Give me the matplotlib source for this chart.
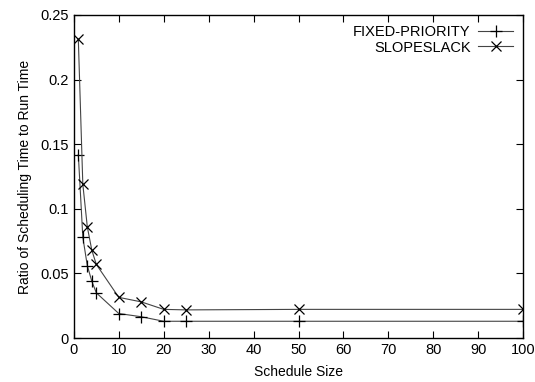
import matplotlib
matplotlib.use('Agg')
import matplotlib.pyplot as plt

plt.rcParams.update({'font.family': 'Liberation Sans', 'font.size': 10.5})

sizes = [1, 2, 3, 4, 5, 10, 15, 20, 25, 50, 100]
fixed_priority = [0.142, 0.078, 0.056, 0.044, 0.035, 0.019, 0.0165, 0.013, 0.013, 0.013, 0.013]
slopeslack = [0.231, 0.119, 0.086, 0.068, 0.057, 0.0315, 0.028, 0.0222, 0.0218, 0.0222, 0.0222]

fig = plt.figure(figsize=(5.35, 3.82), dpi=100)
ax = fig.add_axes([0.138, 0.115, 0.840, 0.846])

ax.plot(sizes, fixed_priority, color='#444444', linewidth=0.8, marker='+',
        markersize=9, markeredgewidth=0.9, markeredgecolor='black', label='FIXED-PRIORITY')
ax.plot(sizes, slopeslack, color='#444444', linewidth=0.8, marker='x',
        markersize=7, markeredgewidth=0.9, markeredgecolor='black', label='SLOPESLACK')

ax.set_xlim(0, 100)
ax.set_ylim(0, 0.25)
ax.set_xticks(range(0, 101, 10))
ax.set_yticks([0, 0.05, 0.1, 0.15, 0.2, 0.25])
ax.set_yticklabels(['0', '0.05', '0.1', '0.15', '0.2', '0.25'])
ax.tick_params(direction='in', top=True, right=True, length=5, width=0.8)
for s in ax.spines.values():
    s.set_linewidth(1.0)

ax.set_xlabel('Schedule Size', fontsize=10, labelpad=6)
ax.set_ylabel('Ratio of Scheduling Time to Run Time', fontsize=10, labelpad=6)

ax.legend(loc='upper right', frameon=False, markerfirst=False, handlelength=2.4,
          borderaxespad=0.3, labelspacing=0.1, handletextpad=0.5)

fig.savefig('out.png', dpi=100)
